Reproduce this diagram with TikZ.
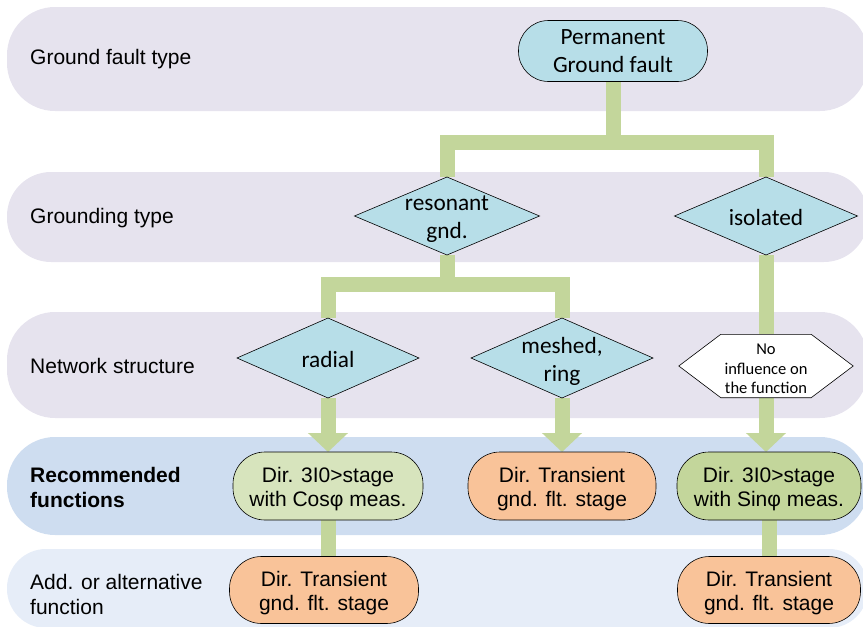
\documentclass[tikz,border=0pt]{standalone}
\usepackage{fontspec}
\setmainfont{Liberation Sans}
\newfontfamily\calib{Carlito}
\usetikzlibrary{shapes.geometric,arrows.meta}
\definecolor{bandgray}{HTML}{E6E3EE}
\definecolor{bandblue}{HTML}{CEDDF0}
\definecolor{bandlight}{HTML}{E6EDF8}
\definecolor{nodeblue}{HTML}{B7DEE8}
\definecolor{lgreen}{HTML}{C3D69B}
\definecolor{paleg}{HTML}{D7E4BD}
\definecolor{orng}{HTML}{F9C399}
\pgfdeclarelayer{bands}
\pgfdeclarelayer{links}
\pgfdeclarelayer{hexl}
\pgfsetlayers{bands,links,hexl,main}
\begin{document}
\begin{tikzpicture}[x=1pt,y=-1pt,
  lab/.style={anchor=west, font=\fontsize{21}{25}\selectfont, align=left, inner sep=0pt},
  caltext/.style={font=\calib\fontsize{23.3}{28}\selectfont, align=center, inner sep=0pt},
  pilltext/.style={font=\fontsize{21}{24.5}\selectfont, align=center, inner sep=0pt},
  dia/.style={diamond, draw=black, line width=0.6pt, fill=nodeblue, minimum width=183pt, minimum height=79pt, inner sep=0pt, outer sep=0pt},
  pill/.style={rectangle, rounded corners=32pt, draw=black, line width=0.6pt, minimum width=188pt, minimum height=68pt, inner sep=0pt, outer sep=0pt},
  conn/.style={line width=15pt, draw=lgreen, line join=miter},
  arr/.style={conn, -{Triangle[width=39pt,length=19pt]}}
]
\useasboundingbox (0,0) rectangle (863,627);
\clip (0,0) rectangle (863,627);

\begin{pgfonlayer}{bands}
\fill[bandgray, rounded corners=48pt] (7,7) rectangle (868,111);
\fill[bandgray, rounded corners=44pt] (7,172) rectangle (868,262);
\fill[bandgray, rounded corners=48pt] (7,312) rectangle (868,418);
\fill[bandblue, rounded corners=48pt] (7,437) rectangle (868,535);
\fill[bandlight, rounded corners=39pt] (7,549) rectangle (868,628);
\end{pgfonlayer}

% row labels
\node[lab] (l1) at (30,59) {Ground fault type};
\node[lab] (l2) at (30,218) {Grounding type};
\node[lab] (l3) at (30,366) {Network structure};
\node[lab, font=\fontsize{21}{25}\selectfont\bfseries] (l4) at (30,487) {Recommended\\functions};
\node[lab] (l5) at (30,594) {Add. or alternative\\function};

% top node
\node[pill, fill=nodeblue, minimum width=189pt, minimum height=61pt, rounded corners=30pt, align=center, font=\calib\fontsize{23.3}{28}\selectfont] (pgf) at (613,51) {Permanent\\Ground fault};

% diamonds
\node[dia, minimum width=185pt, minimum height=78pt] (res) at (447,216) {};
\node[caltext] (rest) at (447,219) {resonant\\gnd.};
\node[dia, minimum width=183pt, minimum height=78pt] (iso) at (766,216) {};
\node[caltext] (isot) at (766,217) {isolated};
\node[dia, minimum width=182pt, minimum height=80pt] (rad) at (328,358) {};
\node[caltext] (radt) at (328,359) {radial};
\node[dia, minimum width=182pt, minimum height=80pt] (mesh) at (562,358) {};
\node[caltext] (mesht) at (562,361) {meshed,\\ring};

% hexagon
\node[inner sep=0pt, minimum width=174pt, minimum height=63pt] (hex) at (766,366) {};
\begin{pgfonlayer}{hexl}
\draw[fill=white, line width=0.6pt] (hex.west) -- ([xshift=42pt]hex.north west) -- ([xshift=-42pt]hex.north east) -- (hex.east) -- ([xshift=-42pt]hex.south east) -- ([xshift=42pt]hex.south west) -- cycle;
\end{pgfonlayer}
\node[inner sep=0pt, align=center, font=\calib\fontsize{16.5}{19.5}\selectfont] (hext) at (766,369) {No\\influence on\\the function};

% function nodes
\node[pill, fill=paleg, minimum width=190pt] (cos) at (328,486) {};
\node[pilltext] (cost) at (328,489) {Dir. 3I0>stage\\with Cosφ meas.};
\node[pill, fill=orng] (tr1) at (562,486) {};
\node[pilltext] (tr1t) at (562,489) {Dir. Transient\\gnd. flt. stage};
\node[pill, fill=lgreen, minimum width=184pt] (sin) at (769,486) {};
\node[pilltext] (sint) at (769,489) {Dir. 3I0>stage\\with Sinφ meas.};
\node[pill, fill=orng, minimum width=189pt, minimum height=67pt] (alt1) at (324,590) {};
\node[pilltext] (alt1t) at (324,593) {Dir. Transient\\gnd. flt. stage};
\node[pill, fill=orng, minimum width=183pt, minimum height=67pt] (alt2) at (769,590) {};
\node[pilltext] (alt2t) at (769,593) {Dir. Transient\\gnd. flt. stage};

\coordinate (bar1) at (0,142);
\coordinate (bar2) at (0,284);

\begin{pgfonlayer}{links}
\draw[conn] (pgf.south) -- (pgf.south |- bar1);
\draw[conn] (res.north) -- (res.north |- bar1) -- (iso.north |- bar1) -- (iso.north);
\draw[conn] (res.south) -- (res.south |- bar2);
\draw[conn] (rad.north) -- (rad.north |- bar2) -- (mesh.north |- bar2) -- (mesh.north);
\draw[arr] (rad.south) -- (cos.north);
\draw[arr] (mesh.south) -- (tr1.north);
\draw[conn] (iso.south) -- (hex.north);
\draw[arr] (hex.south) -- (hex.south |- sin.north);
\draw[conn] (cos.south) -- (alt1.north -| cos.south);
\draw[conn] (sin.south) -- (alt2.north);
\end{pgfonlayer}
\end{tikzpicture}
\end{document}
